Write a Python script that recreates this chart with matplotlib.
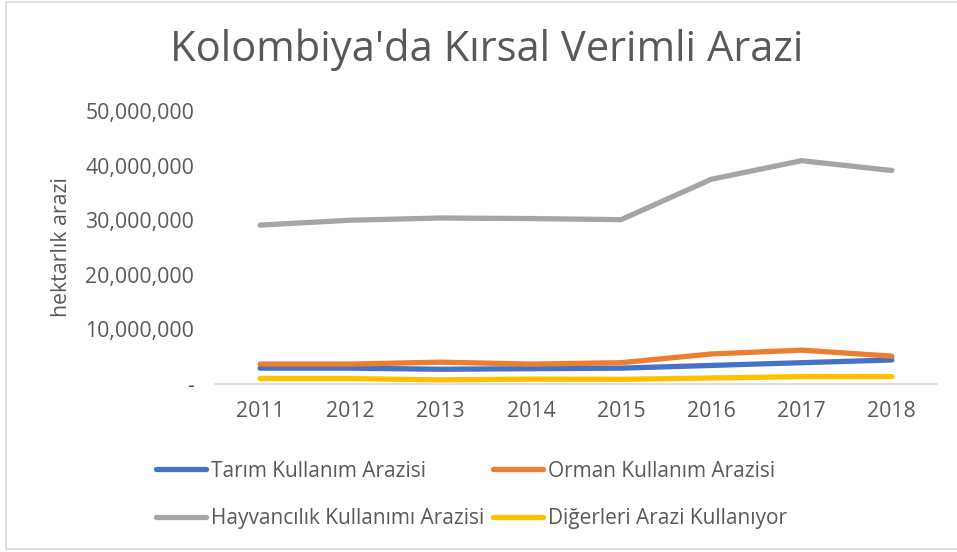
import numpy as np
import matplotlib
matplotlib.use("Agg")
import matplotlib.pyplot as plt
from matplotlib.ticker import FuncFormatter

plt.rcParams['font.family'] = ['Open Sans', 'DejaVu Sans']

# veriler (grafikten okunmuş tahmini değerler, hektar)
years = ['2011', '2012', '2013', '2014', '2015', '2016', '2017', '2018']
tarim = [2.9e6, 2.9e6, 2.7e6, 2.8e6, 2.9e6, 3.4e6, 3.9e6, 4.4e6]
orman = [3.65e6, 3.65e6, 4.0e6, 3.65e6, 3.9e6, 5.5e6, 6.2e6, 5.1e6]
hayvancilik = [29.1e6, 30.0e6, 30.4e6, 30.3e6, 30.1e6, 37.5e6, 40.9e6, 39.1e6]
digerleri = [1.0e6, 1.0e6, 0.75e6, 0.9e6, 0.85e6, 1.1e6, 1.35e6, 1.35e6]

labels = ['Tarım Kullanım Arazisi', 'Orman Kullanım Arazisi',
          'Hayvancılık Kullanımı Arazisi', 'Diğerleri Arazi Kullanıyor']
colors = ['#4472C4', '#ED7D31', '#A5A5A5', '#FFC000']
yticks = [0, 10e6, 20e6, 30e6, 40e6, 50e6]

TEXT = '#595959'
W, H = 957, 552

fig = plt.figure(figsize=(W / 100, H / 100), dpi=100)
ax = fig.add_axes([215 / W, (H - 384) / H, (937 - 215) / W, (384 - 111) / H])

x = np.arange(len(years))
series = [tarim, orman, hayvancilik, digerleri]
handles = []
for vals, lab, col in zip(series, labels, colors):
    h, = ax.plot(x, vals, color=col, lw=3.8, solid_capstyle='round',
                 solid_joinstyle='round', label=lab)
    handles.append(h)

ax.set_xlim(-0.5, len(years) - 0.5)
ax.set_ylim(0, 50e6)
ax.set_xticks(x)
ax.set_xticklabels(years)
ax.set_yticks(yticks)
ax.yaxis.set_major_formatter(FuncFormatter(lambda v, p: '-' if v == 0 else f'{v:,.0f}'))
ax.tick_params(length=0, labelsize=15.3, colors=TEXT)
ax.tick_params(axis='y', pad=15)
ax.tick_params(axis='x', pad=12)
for s in ['top', 'right', 'left']:
    ax.spines[s].set_visible(False)
ax.spines['bottom'].set_color('#D9D9D9')
ax.spines['bottom'].set_linewidth(1.3)

ax.set_ylabel('hektarlık arazi', fontsize=15.3, color=TEXT)
ax.yaxis.set_label_coords(-0.198, 0.5)

fig.text(487 / W, 1 - 50 / H, "Kolombiya'da Kırsal Verimli Arazi",
         ha='center', va='center', fontsize=30, color=TEXT)

# Excel düzeni satır satır; matplotlib sütun sütun doldurur
order = [0, 2, 1, 3]
leg = fig.legend([handles[i] for i in order], [labels[i] for i in order],
                 loc='upper left', ncol=2,
                 bbox_to_anchor=(137 / W, 1 - 442 / H), frameon=False,
                 fontsize=15, handlelength=2.4, handletextpad=0.25,
                 columnspacing=0.4, labelspacing=1.25, labelcolor=TEXT)

# grafik çerçevesi
border = plt.Rectangle((6 / W, 3 / H), 1.2, 1 - 5 / H, transform=fig.transFigure,
                       fill=False, ec='#D9D9D9', lw=1.2)
fig.patches.append(border)

fig.savefig('out.png', dpi=100)
